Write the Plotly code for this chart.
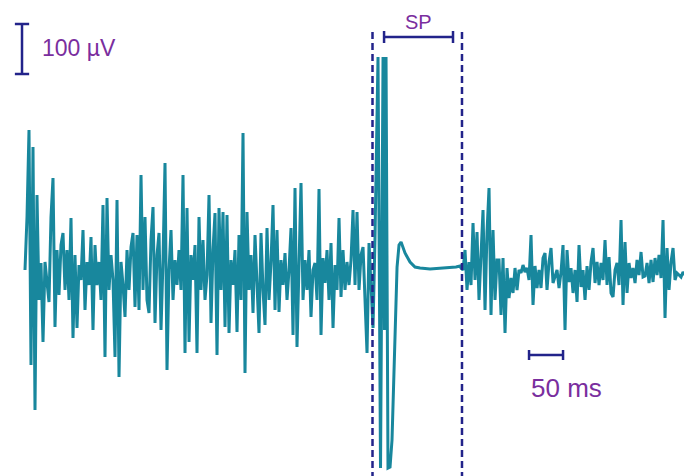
import numpy as np
import plotly.graph_objects as go

# ---- data (time in ms, amplitude in µV) ----
SAMPLE_MS = 50 / 17          # sampling interval of the EMG samples
PRE_START_MS = 0.0
POST_START_MS = 218 * SAMPLE_MS

emg_pre_uv = [
    -4, 102, 276, -194, 242, -284, 146, -64, 10, -148, 12, -24, -68, 102, 180, -118,
    36, -54, 46, 70, -44, 36, -64, 100, -140, 26, -120, 6, -24, 76, -84, 12,
    -34, 62, -124, 46, -34, 12, -64, 126, -178, 140, -44, 26, -24, -178, 136, -218,
    12, -34, -98, 36, -44, 42, 70, -78, 66, -84, 186, -44, 102, -64, -90, 56,
    122, -110, 26, 70, -124, 16, 210, -204, -4, 76, -64, 16, -34, 36, -44, 186,
    -170, 120, -148, 26, -24, 46, -170, 102, -44, 56, -64, -14, 146, -110, 36, 110,
    -174, 120, -44, 112, -118, 106, -130, 16, -34, 36, -128, 66, -64, 270, -210, 112,
    -44, 26, -90, 66, -34, -130, 70, -44, -114, 80, -64, 12, 126, -84, 76, -88,
    16, -34, 30, -64, -4, 80, -134, 160, -158, 12, 170, -64, 16, -44, 36, -98,
    -4, 10, -64, 158, -134, 20, -30, 36, -64, 50, -120, 6, -44, 100, -58, 36,
    -44, 12, -34, 16, 116, -34, 112, -44, 26, 42, -78, -170, 50, -44, -120, 62,
]

# stimulus artefact and silent period (irregular time points)
sp_t_ms = [519.1, 522.8, 526.5, 528.7, 530.9, 533.8, 536.8, 539.7, 542.6, 545.6,
           547.1, 550.0, 553.0, 558.8, 566.2, 573.5, 580.9, 595.6, 610.3, 625.0,
           633.8, 639.7]
sp_uv = [422, -400, 422, -124, 422, -400, -398, -344, -210, -78,
         2, 46, 52, 30, 12, 2, 0, -2, -1, 0,
         2, 4]

emg_post_uv = [
    0, -4, 36, -44, 12, -34, 90, -24, 72, -64, 46, 116, -84, 72, 160, -94,
    76, -64, 16, 16, -94, 20, -130, 0, -60, -20, -50, 0, -44, -4, -10, 6,
    -8, 0, -24, 66, -74, 4, -40, -4, -40, 20, 30, -44, 12, 40, -30, -14,
    -4, -40, -8, 46, -124, 36, -28, 0, -50, -4, -68, 46, -38, -4, -64, 4,
    -44, 12, 40, -30, 12, -34, 10, -24, 56, -34, 22, -50, -58, -4, 10, -34,
    96, -74, 52, -50, 10, -20, 0, -30, 16, -14, 32, -18, -16, 10, -30, 16,
    -28, 20, -14, 26, -20, 96, -100, 40, -44, 12, 40, -24, -10, -14, -18, -8,
    -14, 10, -4, 0,
]

SCALE_UV = 100      # vertical scale bar
SCALE_MS = 50       # horizontal scale bar
SP_START_MS = 511.0
SP_END_MS = 642.6

# ---- build the trace ----
t_pre = PRE_START_MS + SAMPLE_MS * np.arange(len(emg_pre_uv))
t_post = POST_START_MS + SAMPLE_MS * np.arange(len(emg_post_uv))
t_all = np.concatenate([t_pre, np.array(sp_t_ms), t_post])
v_all = np.concatenate([np.array(emg_pre_uv), np.array(sp_uv), np.array(emg_post_uv)])

TRACE = "#18879D"
NAVY = "#22238A"
PURPLE = "#7A2E9E"
FONT = "Liberation Sans, Arial, sans-serif"

fig = go.Figure()
fig.add_trace(go.Scatter(x=t_all, y=v_all, mode="lines",
                         line=dict(color=TRACE, width=3), hoverinfo="skip"))

shapes = []
# dashed silent-period boundaries
for tx in (SP_START_MS, SP_END_MS):
    shapes.append(dict(type="line", x0=tx, x1=tx, y0=472, y1=-440,
                       line=dict(color=NAVY, width=2.5, dash="7px,4px")))
# SP bracket
sp_b0, sp_b1, sp_y = 528.0, 629.4, 462
shapes.append(dict(type="line", x0=sp_b0, x1=sp_b1, y0=sp_y, y1=sp_y, line=dict(color=NAVY, width=2.5)))
for tx in (sp_b0, sp_b1):
    shapes.append(dict(type="line", x0=tx, x1=tx, y0=sp_y - 12, y1=sp_y + 12, line=dict(color=NAVY, width=2.5)))

# vertical scale bar (100 µV)
vb_x, vb_top = -4.4, 488
shapes.append(dict(type="line", x0=vb_x, x1=vb_x, y0=vb_top, y1=vb_top - SCALE_UV, line=dict(color=NAVY, width=2.5)))
for yy in (vb_top, vb_top - SCALE_UV):
    shapes.append(dict(type="line", x0=vb_x - 10.5, x1=vb_x + 10.5, y0=yy, y1=yy, line=dict(color=NAVY, width=2.5)))

# horizontal scale bar (50 ms)
hb_x0, hb_y = 741.2, -174
shapes.append(dict(type="line", x0=hb_x0, x1=hb_x0 + SCALE_MS, y0=hb_y, y1=hb_y, line=dict(color=NAVY, width=2.5)))
for tx in (hb_x0, hb_x0 + SCALE_MS):
    shapes.append(dict(type="line", x0=tx, x1=tx, y0=hb_y - 10, y1=hb_y + 10, line=dict(color=NAVY, width=2.5)))

annotations = [
    dict(x=22, y=440, text="100 µV", showarrow=False, xanchor="left", yanchor="middle",
         font=dict(family=FONT, size=23, color=PURPLE)),
    dict(x=795.6, y=-240, text="50 ms", showarrow=False, xanchor="center", yanchor="middle",
         font=dict(family=FONT, size=26, color=PURPLE)),
    dict(x=578, y=492, text="SP", showarrow=False, xanchor="center", yanchor="middle",
         font=dict(family=FONT, size=20, color=PURPLE)),
]

# the page body adds an 8 px offset, so the visible window starts 8 px into the axes
fig.update_layout(
    width=692, height=476,
    margin=dict(l=0, r=0, t=0, b=0),
    paper_bgcolor="white", plot_bgcolor="white",
    showlegend=False,
    xaxis=dict(range=[-25.0, 992.6], visible=False, fixedrange=True),
    yaxis=dict(range=[-432, 520], visible=False, fixedrange=True),
    shapes=shapes, annotations=annotations,
)

fig.write_html("out.html", config={"displayModeBar": False})
